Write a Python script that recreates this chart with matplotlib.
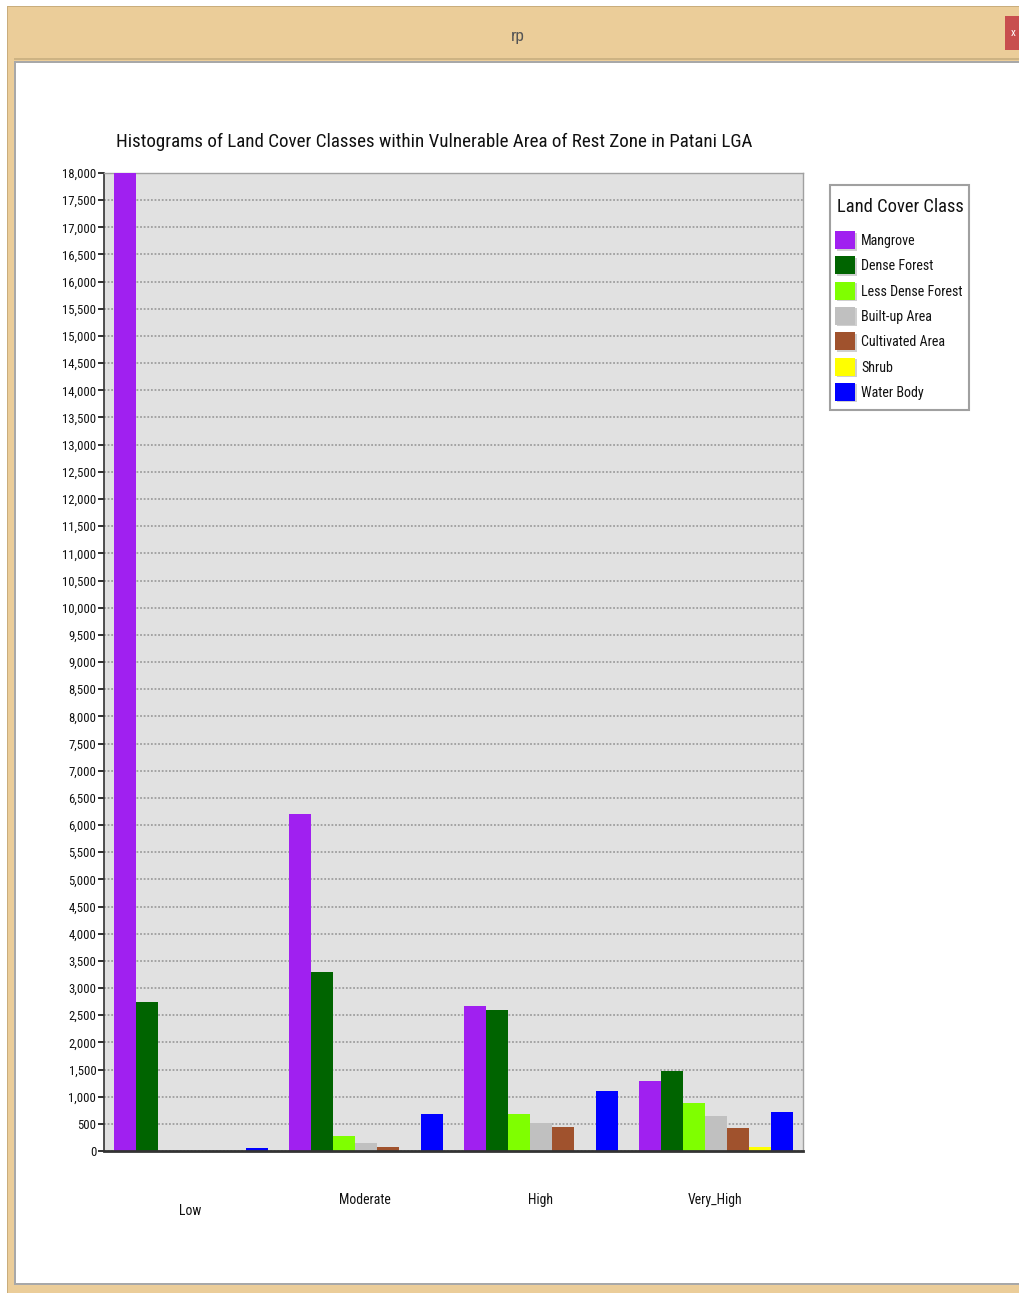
import matplotlib
matplotlib.use("Agg")
import matplotlib.pyplot as plt
from matplotlib import font_manager
from matplotlib.font_manager import FontProperties
from matplotlib.patches import Rectangle
from matplotlib.transforms import blended_transform_factory
import numpy as np

# ---- data -------------------------------------------------------------
zones = ["Low", "Moderate", "High", "Very_High"]
classes = ["Mangrove", "Dense Forest", "Less Dense Forest", "Built-up Area",
           "Cultivated Area", "Shrub", "Water Body"]
mangrove = [18000, 6200, 2670, 1280]
dense_forest = [2740, 3300, 2600, 1480]
less_dense_forest = [0, 280, 680, 880]
built_up = [0, 150, 510, 650]
cultivated = [0, 80, 450, 420]
shrub = [0, 0, 0, 70]
water_body = [50, 680, 1110, 710]
yticks = list(range(0, 18001, 500))

series = [mangrove, dense_forest, less_dense_forest, built_up,
          cultivated, shrub, water_body]
colors = ["#A020F0", "#006400", "#7FFF00", "#C0C0C0",
          "#A0522D", "#FFFF00", "#0000FF"]

TITLE = "Histograms of Land Cover Classes within Vulnerable Area of Rest Zone in Patani LGA"


# ---- fonts: prefer a narrow sans face if one is installed --------------
def narrow_font_file():
    fl = font_manager.fontManager.ttflist
    wanted = ["Liberation Sans Narrow", "Roboto Condensed", "Open Sans Condensed",
              "Noto Sans Condensed"]
    for name in wanted:
        for f in fl:
            if f.name == name and f.style == "normal" and f.weight in (400, "normal", "regular"):
                return f.fname
    for f in fl:
        low = f.fname.lower()
        if (f.stretch in ("condensed", "semi-condensed") or "condensed" in low or "narrow" in low) \
                and f.style == "normal" and f.weight in (400, "normal", "regular") \
                and "mono" not in low and "serif" not in low.replace("sans", ""):
            return f.fname
    return None


NARROW = narrow_font_file()


def fp(size):
    if NARROW:
        return FontProperties(fname=NARROW, size=size)
    return FontProperties(family=["Liberation Sans", "DejaVu Sans"], size=size)


W, H = 1020, 1293
fig = plt.figure(figsize=(W / 100, H / 100), dpi=100)
fig.patch.set_facecolor("white")
renderer = fig.canvas.get_renderer()


def fit_size(text, width_px, start=14.0):
    """Font size at which `text` spans about `width_px` pixels."""
    t = fig.text(0, 0, text, fontproperties=fp(start))
    w = t.get_window_extent(renderer).width
    t.remove()
    return start * width_px / w


# ---- window chrome (pixel coordinates, origin top-left) ---------------
bg = fig.add_axes([0, 0, 1, 1])
bg.set_xlim(0, W)
bg.set_ylim(H, 0)
bg.axis("off")
tan = "#EBCD99"
bg.add_patch(Rectangle((7, 6), W - 7, H - 6, facecolor=tan, edgecolor="none"))
bg.add_patch(Rectangle((7, 6), 1.2, H - 6, facecolor="#C9AD7C", edgecolor="none"))
bg.add_patch(Rectangle((7, 6), W - 7, 1.2, facecolor="#C9AD7C", edgecolor="none"))
bg.add_patch(Rectangle((14, 58), W - 14, 2, facecolor="#CDB383", edgecolor="none"))
bg.add_patch(Rectangle((14, 61), W - 14, H - 61 - 8, facecolor="#A8A8A8", edgecolor="none"))
bg.add_patch(Rectangle((16, 63), W - 16, H - 63 - 10, facecolor="white", edgecolor="none"))
bg.add_patch(Rectangle((1005, 16), 15, 34, facecolor="#C84E4E", edgecolor="none"))
bg.text(1013, 33, "x", color="white", ha="center", va="center",
        fontproperties=fp(8), fontweight="bold")
bg.text(518, 37, "rp", color="#555555", ha="center", va="center",
        fontproperties=fp(fit_size("rp", 14)))

# ---- chart ------------------------------------------------------------
left, right, top, bottom = 104, 803, 173, 1151
ax = fig.add_axes([left / W, 1 - bottom / H, (right - left) / W, (bottom - top) / H])
ax.set_facecolor("#E1E1E1")

x = np.arange(len(zones))
n = len(series)
width = 0.88 / n
for i, (vals, col, name) in enumerate(zip(series, colors, classes)):
    ax.bar(x + (i - (n - 1) / 2) * width, vals, width=width, color=col,
           edgecolor="none", label=name, zorder=3)

ax.set_xlim(-0.5, 3.5)
ax.set_ylim(0, 18000)
ax.set_yticks(yticks)
tick_fp = fp(fit_size("18,000", 34))
ax.set_yticklabels([f"{v:,}" for v in yticks], fontproperties=tick_fp, color="#111111")
ax.yaxis.grid(True, linestyle=(0, (1, 1)), color="#9E9E9E", linewidth=1.3, zorder=1)
ax.set_axisbelow(True)
ax.tick_params(axis="y", length=4, width=1.4, pad=1.5, color="#333333")
ax.set_xticks([])
for s in ("top", "right"):
    ax.spines[s].set_color("#A0A0A0")
    ax.spines[s].set_linewidth(1.0)
ax.spines["left"].set_color("#333333")
ax.spines["left"].set_linewidth(1.2)
ax.spines["bottom"].set_color("#333333")
ax.spines["bottom"].set_linewidth(2.0)
ax.spines["bottom"].set_zorder(5)

# category labels under the axis
lab_tr = blended_transform_factory(ax.transData, bg.transData)
label_y = [1211, 1200, 1200, 1200]
cat_fp = fp(fit_size("Moderate", 52))
for xi, name, yy in zip(x, zones, label_y):
    ax.text(xi - 0.005, yy, name, transform=lab_tr, ha="center", va="center",
            fontproperties=cat_fp, color="#111111")

bg.text(434, 142, TITLE, ha="center", va="center",
        fontproperties=fp(fit_size(TITLE, 640)), color="#111111")

# ---- legend box -------------------------------------------------------
bg.add_patch(Rectangle((830, 185), 139, 225, facecolor="white",
                       edgecolor="#A0A0A0", linewidth=1.5))
bg.text(837, 207, "Land Cover Class", ha="left", va="center",
        fontproperties=fp(fit_size("Land Cover Class", 128)), color="#111111")
entry_fp = fp(fit_size("Less Dense Forest", 103))
for k, (name, col) in enumerate(zip(classes, colors)):
    cy = 240 + k * 25.3
    bg.add_patch(Rectangle((837, cy - 7.5), 20, 18, facecolor="#D0D0D0", edgecolor="none"))
    bg.add_patch(Rectangle((835, cy - 9), 20, 18, facecolor=col, edgecolor="none"))
    bg.text(861, cy + 1, name, ha="left", va="center", fontproperties=entry_fp,
            color="#111111")

fig.savefig("out.png", dpi=100)
